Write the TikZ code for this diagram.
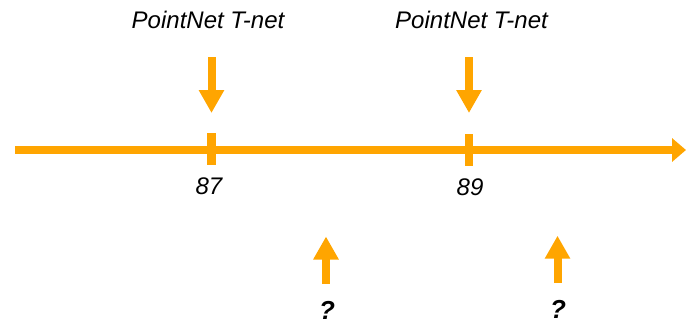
\documentclass[tikz,border=0pt]{standalone}
\usepackage{fontspec}
\setmainfont{Liberation Sans}
\usetikzlibrary{arrows.meta}
\definecolor{tlorange}{RGB}{255,165,0}
\begin{document}
\begin{tikzpicture}[x=1pt,y=-1pt,
  axis/.style={draw=tlorange,line width=7.5pt,-{Triangle[width=23pt,length=14pt]}},
  pointer/.style={draw=tlorange,line width=8pt,-{Triangle[width=24pt,length=23pt]}},
  tickmark/.style={draw=tlorange,line width=8.5pt},
  lbl/.style={anchor=base,inner sep=0pt,font=\fontsize{24}{28}\selectfont\itshape},
  qlbl/.style={anchor=base,inner sep=0pt,font=\fontsize{26}{30}\selectfont\bfseries\itshape}]
\useasboundingbox (0,0) rectangle (686,324);

% timeline
\coordinate (start) at (15,150);
\coordinate (end) at (686,150);
\draw[axis] (start) -- (end);

% tick marks on the timeline
\coordinate (t1top) at (211.5,133);
\coordinate (t1bot) at (211.5,165);
\coordinate (t2top) at (469,134);
\coordinate (t2bot) at (469,166);
\draw[tickmark] (t1top) -- (t1bot);
\draw[tickmark] (t2top) -- (t2bot);

% tick labels
\node[lbl] (y87) at (209,194) {87};
\node[lbl] (y89) at (470,195.5) {89};

% annotations above the timeline
\node[lbl] (tnetA) at (208,28) {PointNet T-net};
\node[lbl] (tnetB) at (471.5,28) {PointNet T-net};
\coordinate (dA0) at (211.5,57);
\coordinate (dA1) at (211.5,113);
\coordinate (dB0) at (469,57);
\coordinate (dB1) at (469,113);
\draw[pointer] (dA0) -- (dA1);
\draw[pointer] (dB0) -- (dB1);

% open questions below the timeline
\coordinate (uA0) at (326,284);
\coordinate (uA1) at (326,236.5);
\coordinate (uB0) at (557.5,283);
\coordinate (uB1) at (557.5,235.7);
\draw[pointer] (uA0) -- (uA1);
\draw[pointer] (uB0) -- (uB1);
\node[qlbl] (qA) at (327,319) {?};
\node[qlbl] (qB) at (558,318) {?};
\end{tikzpicture}
\end{document}
